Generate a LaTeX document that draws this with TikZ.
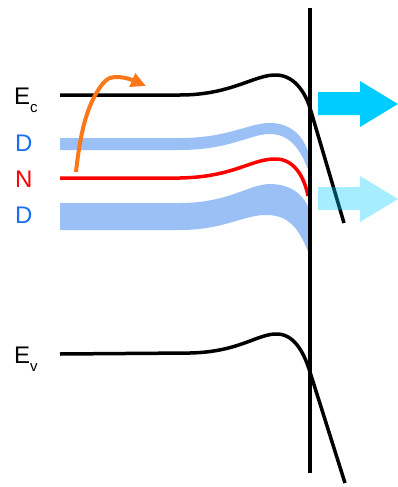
\documentclass[tikz,border=0pt]{standalone}
\usepackage{fontspec}
\setmainfont{Liberation Sans}
\usepackage{tikz}
\usetikzlibrary{arrows.meta}
\definecolor{bandblue}{RGB}{155,192,245}
\definecolor{dblue}{RGB}{25,110,245}
\definecolor{hotorange}{RGB}{250,120,25}
\definecolor{flowcyan}{RGB}{0,204,255}
\newcommand{\lowsub}[1]{\raisebox{-8pt}{\fontsize{15}{15}\selectfont #1}}

\begin{document}
\begin{tikzpicture}[x=1pt, y=-1pt,
  lab/.style={font=\fontsize{24}{24}\selectfont, inner sep=0pt, anchor=base west},
  lvl/.style={line width=3.5pt, line join=round},
  band/.style={fill=bandblue, draw=none},
  flow/.style={fill=flowcyan, draw=none}]
\useasboundingbox (0,0) rectangle (398,487);
\node[lab] (ec) at (14,104) {E\lowsub{c}};
\node[lab, text=dblue] (d1) at (15,151) {D};
\node[lab, text=red] (n) at (15,187) {N};
\node[lab, text=dblue] (d2) at (15,223) {D};
\node[lab] (ev) at (14,363) {E\lowsub{v}};
\fill[band] (60,138) -- (180,138) .. controls (230,138) and (250,122) .. (272,123) .. controls (294,124) and (306,140) .. (310,158)
  -- (310,175) .. controls (303,155) and (293,134) .. (270,134) .. controls (250,134) and (230,150) .. (180,150) -- (60,150) -- cycle;
\fill[band] (60,203) -- (180,203) .. controls (230,203) and (250,183) .. (272,184) .. controls (293,185) and (305,196) .. (310,212)
  -- (310,256) .. controls (300,232) and (292,216) .. (268,215) .. controls (245,214) and (225,230) .. (180,230) -- (60,230) -- cycle;
\draw[lvl, red] (60,178) -- (180,178) .. controls (235,177) and (252,158) .. (277,159) .. controls (296,160) and (305,180) .. (308,196);
\draw[lvl] (60,95) -- (180,95) .. controls (232,95) and (255,74) .. (277,75) .. controls (296,76) and (306,95) .. (310,108) -- (344,223);
\draw[lvl] (60,354) -- (190,353) .. controls (240,352) and (258,333) .. (278,334) .. controls (296,335) and (305,356) .. (310,372) -- (345,483);
\draw[lvl] (310,8) -- (310,473);
\draw[lvl, line width=4pt, hotorange, -{Triangle[length=15pt, width=14pt]}] (76,172) .. controls (80,135) and (86,110) .. (97,92) .. controls (103,82) and (108,77) .. (115,77) .. controls (124,77) and (130,79) .. (146,86);
\fill[flow] (318,92) -- (360,92) -- (360,81) -- (398,104) -- (360,127) -- (360,115) -- (318,115) -- cycle;
\fill[flow, fill opacity=0.35] (318,187) -- (360,187) -- (360,176) -- (398,199) -- (360,222) -- (360,210) -- (318,210) -- cycle;
\end{tikzpicture}
\end{document}
